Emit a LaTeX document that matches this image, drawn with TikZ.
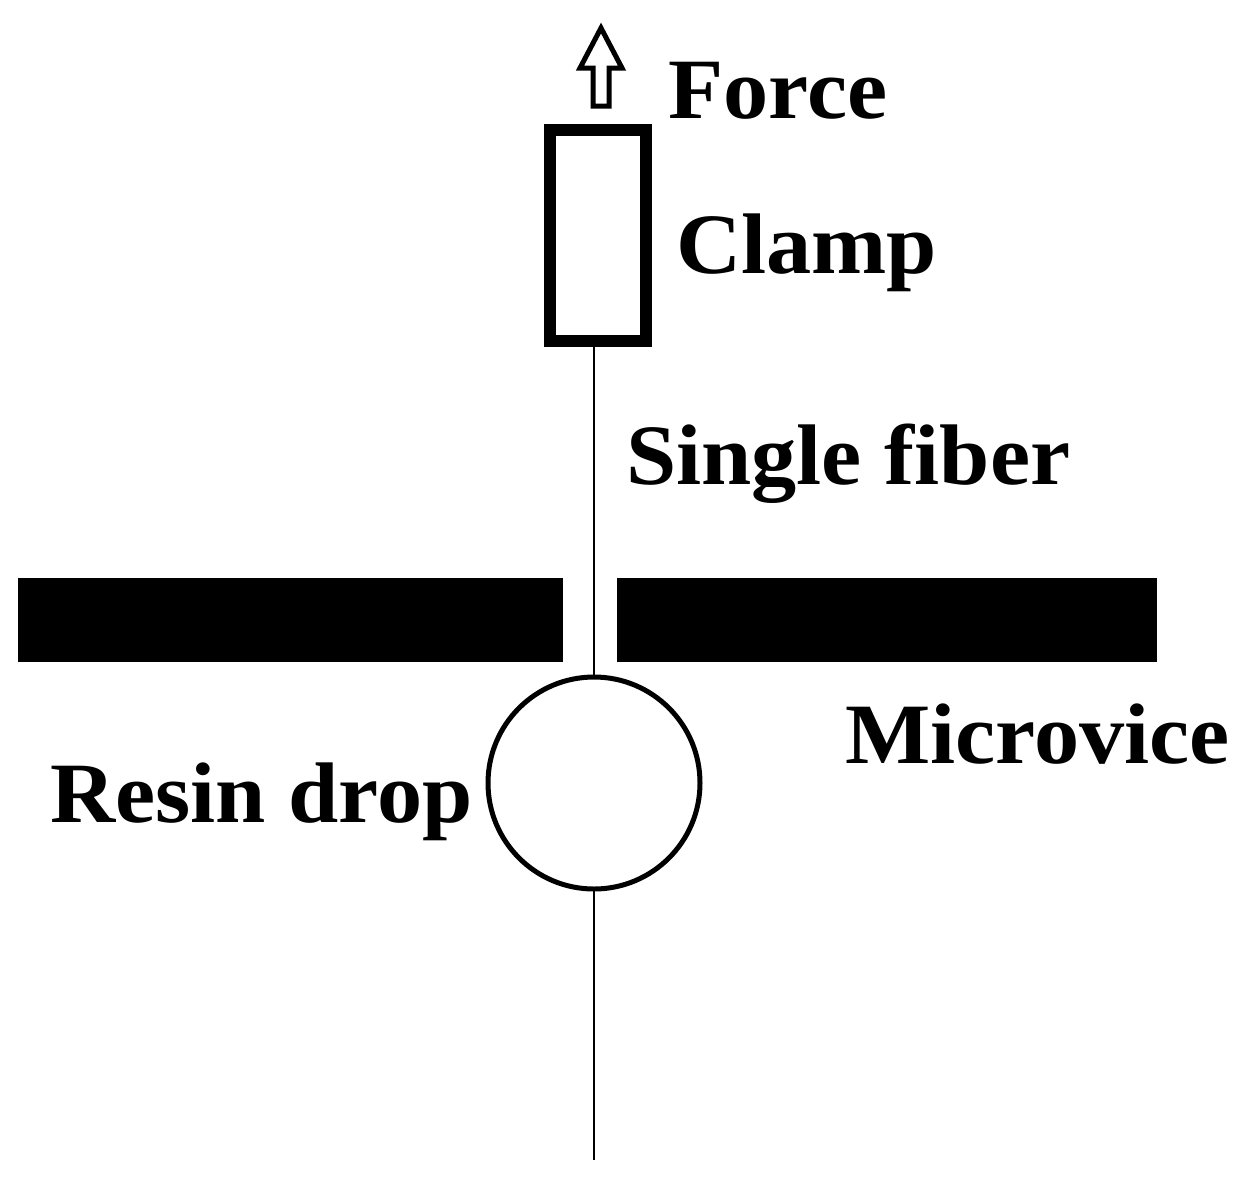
\documentclass[tikz,border=0pt]{standalone}
\usepackage{fontspec}
\setmainfont{Liberation Serif}
\begin{document}
\begin{tikzpicture}[x=1pt,y=-1pt,
  lbl/.style={anchor=base west,inner sep=0pt,xscale=1.05,font=\fontsize{86}{90}\selectfont\bfseries},
  bar/.style={fill=black,draw=none}]
\useasboundingbox (0,0) rectangle (1249,1179);
% fiber
\coordinate (ftop) at (594,347);
\coordinate (fbot) at (594,1160);
\draw[line width=2] (ftop) -- (fbot);
% clamp
\node[draw,line width=12,minimum width=96,minimum height=211,inner sep=0pt] (clamp) at (598,235.5) {};
% force arrow
\draw[line width=5,fill=white,line join=miter] (593,106) -- (593,68) -- (580,68) -- (601,28) -- (622,68) -- (609,68) -- (609,106) -- cycle;
% microvice
\fill[bar] (18,578) rectangle (563,662);
\fill[bar] (617,578) rectangle (1157,662);
% resin drop
\node[draw,circle,line width=5,fill=white,minimum size=212,inner sep=0pt] (drop) at (594,783) {};
% labels
\node[lbl] (force) at (668,118) {Force};
\node[lbl] (clampl) at (676,273) {Clamp};
\node[lbl] (fiber) at (626,484) {Single fiber};
\node[lbl] (micro) at (845,763) {Microvice};
\node[lbl] (resin) at (50,822) {Resin drop};
\end{tikzpicture}
\end{document}
